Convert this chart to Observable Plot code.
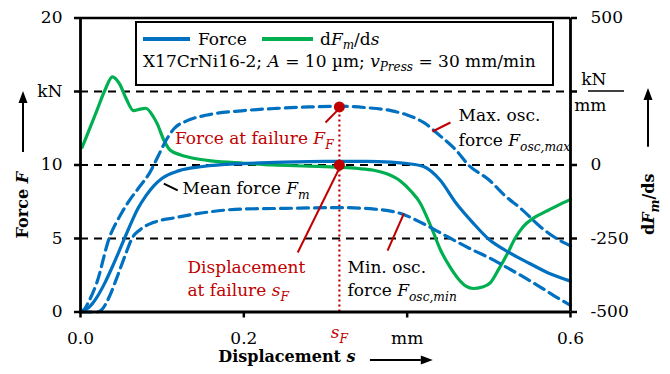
<!DOCTYPE html>
<html><head><meta charset="utf-8">
<script src="https://cdn.jsdelivr.net/npm/d3@7"></script>
<script src="https://cdn.jsdelivr.net/npm/@observablehq/plot@0.6"></script>
<style>
html,body{margin:0;padding:0;background:#fff;}
#wrap{position:relative;width:670px;height:374px;overflow:hidden;font-family:"DejaVu Serif",serif;color:#000;}
#legend{position:absolute;left:135px;top:21px;width:415px;height:61px;border:2px solid #000;background:#fff;font-size:17px;}
#legend .row{position:absolute;left:0;height:20px;line-height:20px;white-space:nowrap;}
#legend .sw{position:absolute;height:4px;top:8px;}
#legend .t{position:absolute;top:0;}
#legend sub{font-size:12px;vertical-align:-4px;line-height:0;}
</style></head><body><div id="wrap"></div>
<script>
// ---------------- data ----------------
const meanS = [0.000,0.010,0.020,0.030,0.040,0.050,0.060,0.070,0.080,0.090,0.100,0.120,0.150,0.200,0.250,0.300,0.350,0.380,0.400,0.420,0.440,0.460,0.480,0.500,0.520,0.550,0.575,0.600];
const meanF = [0.0,0.3,1.0,2.0,3.2,4.5,5.8,7.0,7.9,8.6,9.1,9.6,9.9,10.1,10.2,10.25,10.25,10.2,10.1,9.9,9.0,7.4,6.1,4.95,4.2,3.3,2.6,2.1];

const maxS = [0.000,0.005,0.010,0.020,0.035,0.050,0.060,0.072,0.085,0.095,0.105,0.115,0.130,0.155,0.200,0.240,0.280,0.318,0.350,0.380,0.400,0.420,0.440,0.460,0.475,0.500,0.520,0.540,0.563,0.580,0.600];
const maxF = [0.0,0.2,0.7,2.0,5.0,6.7,7.6,8.5,9.5,10.6,11.7,12.5,13.0,13.4,13.7,13.85,13.95,14.0,13.9,13.7,13.4,12.9,12.0,11.0,10.0,9.0,7.9,7.0,5.8,5.1,4.5];

const minS = [0.000,0.010,0.020,0.025,0.035,0.045,0.055,0.063,0.073,0.090,0.114,0.150,0.196,0.250,0.318,0.360,0.392,0.420,0.450,0.481,0.500,0.523,0.545,0.563,0.580,0.600];
const minF = [0.0,0.0,0.0,0.1,1.0,2.4,3.9,5.0,5.6,6.1,6.4,6.75,7.0,7.05,7.1,7.0,6.7,6.0,5.1,4.2,3.7,3.0,2.3,1.7,1.1,0.45];

const derivS = [0.002,0.010,0.020,0.030,0.039,0.048,0.056,0.065,0.073,0.080,0.089,0.094,0.102,0.110,0.122,0.140,0.160,0.200,0.236,0.280,0.318,0.340,0.359,0.375,0.392,0.405,0.415,0.430,0.441,0.452,0.462,0.472,0.481,0.492,0.502,0.512,0.523,0.532,0.542,0.555,0.570,0.584,0.600];
const derivV = [60,115,185,255,300,275,225,185,190,193,165,140,85,50,35,22,14,6,0,-4,-8,-12,-18,-30,-55,-90,-125,-215,-290,-345,-385,-412,-420,-415,-400,-355,-300,-250,-210,-180,-158,-138,-117];

const sF = 0.317;      // displacement at failure
const FF = 13.95;      // force at failure (max osc.)
const FmF = 10.0;      // mean force at failure

const leftTicks = [0,5,10,15,20];
const leftLabels = ["0","5","10","kN","20"];
const rightTicks = [-500,-250,0,250,500];
const rightLabels = ["-500","-250","0","","500"];
const xTicks = [0,0.2,0.4,0.6];
const xLabels = ["0.0","0.2","mm","0.6"];

// annotations (text, position in data units)
const annText = ["Force at failure [i]F[/i][isub]F[/isub]","Mean force [i]F[/i][isub]m[/isub]","Max. osc.","force [i]F[/i][isub]osc,max[/isub]","Displacement","at failure [i]s[/i][isub]F[/isub]","Min. osc.","force [i]F[/i][isub]osc,min[/isub]"];
const annS = [0.310,0.125,0.463,0.463,0.131,0.131,0.327,0.327];
const annF = [11.8,8.4,13.37,11.66,3.03,1.46,3.03,1.46];
// leader lines
const leadS1 = [0.102,0.431,0.300,0.266,0.376];
const leadF1 = [8.74,12.28,12.89,4.05,4.18];
const leadS2 = [0.119,0.453,0.318,0.318,0.396];
const leadF2 = [8.27,12.89,13.9,9.9,6.70];
const leadRed = [false,false,true,true,false];

// ---------------- chart ----------------
const blue = "#0070c0", green = "#00b050", red = "#c00000";
const zip = (a,b) => a.map((v,i)=>({s:v,F:b[i]}));
const meanD = zip(meanS,meanF), maxD = zip(maxS,maxF), minD = zip(minS,minF);
const derD = derivS.map((s,i)=>({s, v:derivV[i]}));
const toLeft = v => 10 + v/50;   // right axis (kN/mm) -> left axis (kN)

const idx = (arr, f) => arr.map((_,i)=>i).filter(f);
const annMark = (ids, anchor, color) => Plot.text(ids, {x:i=>annS[i], y:i=>annF[i], text:i=>annText[i], textAnchor:anchor, fill:color, fontSize:17});
const leadMark = (ids, color) => Plot.link(ids, {x1:i=>leadS1[i], y1:i=>leadF1[i], x2:i=>leadS2[i], y2:i=>leadF2[i], stroke:color, strokeWidth:2});

const plot = Plot.plot({
  width:670, height:374,
  marginLeft:80, marginRight:100, marginTop:17.5, marginBottom:62.5,
  style:{fontFamily:"DejaVu Serif, serif", fontSize:"17px", background:"#fff", color:"#000", overflow:"visible"},
  x:{domain:[0,0.6]},
  y:{domain:[0,20]},
  marks:[
    Plot.ruleY([5,10,15], {stroke:"#000", strokeWidth:2.2, strokeDasharray:"8,6"}),
    Plot.ruleY([20], {stroke:"#000", strokeWidth:2.5}),
    Plot.ruleX([sF], {y1:0, y2:FF, stroke:red, strokeWidth:2.2, strokeDasharray:"2,3", insetBottom:-6}),
    Plot.line(derD, {x:"s", y:d=>toLeft(d.v), stroke:green, strokeWidth:3.2, curve:"monotone-x"}),
    Plot.line(maxD, {x:"s", y:"F", stroke:blue, strokeWidth:3.2, strokeDasharray:"11,6", curve:"monotone-x"}),
    Plot.line(minD, {x:"s", y:"F", stroke:blue, strokeWidth:3.2, strokeDasharray:"11,6", curve:"monotone-x"}),
    Plot.line(meanD, {x:"s", y:"F", stroke:blue, strokeWidth:3.2, curve:"monotone-x"}),
    Plot.ruleX([0,0.6], {stroke:"#000", strokeWidth:2.8}),
    Plot.ruleY([0], {stroke:"#000", strokeWidth:2.8}),
    Plot.axisY(leftTicks, {anchor:"left", tickFormat:d=>leftLabels[leftTicks.indexOf(d)], tickSize:6, tickPadding:12, strokeWidth:2.5, fontSize:17, label:null}),
    Plot.axisY(rightTicks.map(toLeft), {anchor:"right", tickFormat:d=>rightLabels[rightTicks.map(toLeft).indexOf(d)], tickSize:6, tickPadding:14, strokeWidth:2.5, fontSize:17, label:null}),
    Plot.axisX(xTicks, {tickFormat:d=>xLabels[xTicks.indexOf(d)], tickSize:6, tickPadding:13.5, strokeWidth:2.5, fontSize:17, label:null}),
    Plot.text([sF], {x:d=>d, frameAnchor:"bottom", dy:26, text:()=>"[i]s[/i][isub]F[/isub]", fill:red, fontSize:17}),
    Plot.text(["kN"], {y:15, frameAnchor:"right", dx:36, dy:-12, text:d=>d, fontSize:17}),
    Plot.text(["mm"], {y:15, frameAnchor:"right", dx:36, dy:14, text:d=>d, fontSize:17}),
    leadMark(idx(leadRed,r=>!r), "#000"),
    leadMark(idx(leadRed,r=>r), red),
    annMark([0], "end", red),
    annMark([4,5], "start", red),
    annMark([1,2,3,6,7], "start", "#000"),
    Plot.dot([FF, FmF], {x:()=>sF, y:d=>d, r:5.5, fill:red}),
    Plot.text(["Displacement [bi]s[/bi]"], {frameAnchor:"bottom", dx:30, dy:49.5, textAnchor:"end", text:d=>d, fontWeight:"bold", fontSize:16}),
    Plot.text(["Force [bi]F[/bi]"], {frameAnchor:"left", dx:-58, dy:7, rotate:-90, textAnchor:"end", text:d=>d, fontWeight:"bold", fontSize:16}),
    Plot.text(["d[bi]F[/bi][isub]m[/isub]/ds"], {frameAnchor:"right", dx:78, dy:8.5, rotate:-90, textAnchor:"end", text:d=>d, fontWeight:"bold", fontSize:16})
  ]
});

// rich text: italics and subscripts
function richify(svg){
  d3.select(svg).selectAll("text").each(function(){
    const el=this; const s=el.textContent;
    if(!s.includes("[")) return;
    const fs=parseFloat(getComputedStyle(el).fontSize)||17;
    const sh=Math.round(fs*0.3);
    while(el.firstChild) el.removeChild(el.firstChild);
    const re=/\[(i|sub|isub|bi)\]([\s\S]*?)\[\/\1\]/g;
    let last=0, m, down=false;
    const add=(t,type)=>{
      if(!t) return;
      const ts=document.createElementNS("http://www.w3.org/2000/svg","tspan");
      ts.textContent=t;
      const isSub=(type==="sub"||type==="isub");
      if(type==="i"||type==="isub"||type==="bi") ts.setAttribute("font-style","italic");
      if(isSub){ ts.setAttribute("font-size",(fs*0.72)+"px"); if(!down){ts.setAttribute("dy",sh); down=true;} }
      else if(down){ ts.setAttribute("dy",-sh); down=false; }
      el.appendChild(ts);
    };
    while((m=re.exec(s))){ add(s.slice(last,m.index),""); add(m[2],m[1]); last=re.lastIndex; }
    add(s.slice(last),"");
  });
}
richify(plot);

// decorations: axis arrows and the kN/mm fraction bar
const svg = d3.select(plot);
const yS = plot.scale("y"), xS = plot.scale("x");
function arrow(x1,y1,x2,y2){
  const a=Math.atan2(y2-y1,x2-x1), L=12, w=4.5;
  const bx=x2-L*Math.cos(a), by=y2-L*Math.sin(a);
  svg.append("line").attr("x1",x1).attr("y1",y1).attr("x2",bx).attr("y2",by).attr("stroke","#000").attr("stroke-width",2);
  svg.append("polygon").attr("points",[[x2,y2],[bx+w*Math.sin(a),by-w*Math.cos(a)],[bx-w*Math.sin(a),by+w*Math.cos(a)]].map(p=>p.join(",")).join(" ")).attr("fill","#000");
}
const xR = xS.apply(0.6), xL = xS.apply(0), yB = yS.apply(0);
arrow(xL-57, yS.apply(10.85), xL-57, yS.apply(15));
arrow(xR+78, yS.apply(11.2), xR+78, yS.apply(15.2));
arrow(xS.apply(0.355), yB+48.5, xS.apply(0.432), yB+48.5);
svg.append("line").attr("x1",xR+18).attr("x2",xR+54).attr("y1",yS.apply(15)).attr("y2",yS.apply(15)).attr("stroke","#000").attr("stroke-width",1.5);

const wrap=document.getElementById("wrap");
wrap.appendChild(plot);

// legend (HTML, overlaid inside the plot frame)
const legend=document.createElement("div");
legend.id="legend";
legend.innerHTML=`
 <div class="row" style="top:6px;width:100%">
   <span class="sw" style="left:6px;width:47px;background:${blue}"></span>
   <span class="t" style="left:61px">Force</span>
   <span class="sw" style="left:125px;width:51px;background:${green}"></span>
   <span class="t" style="left:183px">d<i>F</i><sub><i>m</i></sub>/d<i>s</i></span>
 </div>
 <div class="row" style="top:28px;left:6px">X17CrNi16-2; <i>A</i> = 10 µm; <i>v</i><sub><i>Press</i></sub> = 30 mm/min</div>`;
wrap.appendChild(legend);
</script></body></html>
